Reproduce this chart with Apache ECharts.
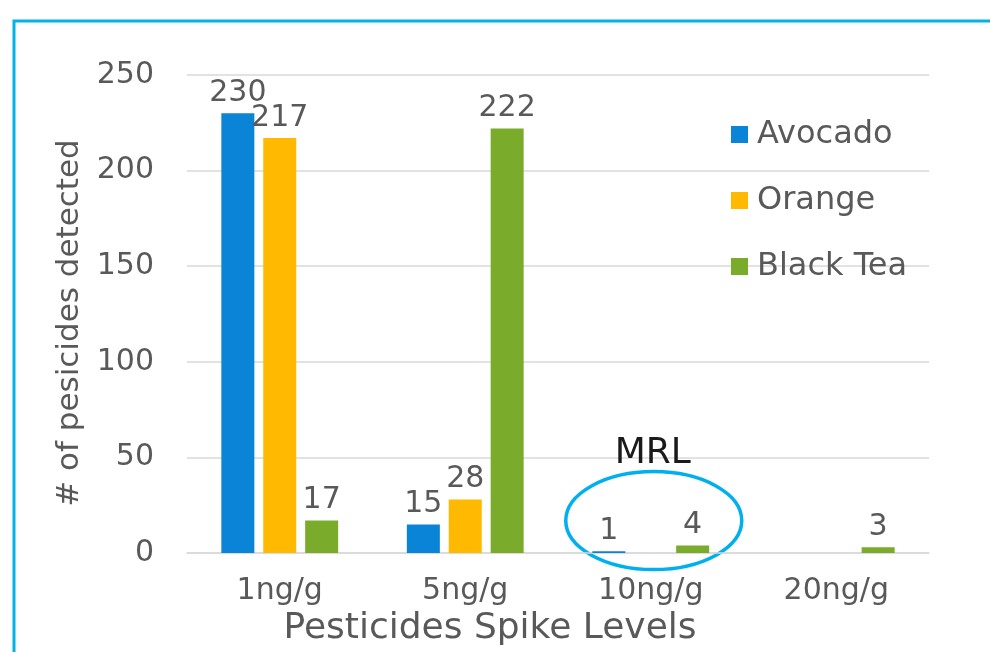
<!DOCTYPE html>
<html>
<head>
<meta charset="utf-8">
<script src="https://cdn.jsdelivr.net/npm/echarts@6/dist/echarts.min.js"></script>
<style>
  html, body { margin: 0; padding: 0; background: #fff; }
  #chart { width: 990px; height: 652px; }
</style>
</head>
<body>
<div id="chart"></div>
<script>
  var levels = ['1ng/g', '5ng/g', '10ng/g', '20ng/g'];
  var avocado = [230, 15, 1, 0];
  var orange = [217, 28, 0, 0];
  var blackTea = [17, 222, 4, 3];
  var yTicks = [0, 50, 100, 150, 200, 250];

  var font = 'DejaVu Sans';
  var grey = '#595959';

  // hide the label when the value is 0
  function labelFmt(p) {
    return p.value === 0 ? '' : p.value;
  }

  function barSeries(name, data, color) {
    return {
      name: name,
      type: 'bar',
      data: data,
      barWidth: 33,
      barGap: '27%',
      itemStyle: { color: color },
      label: {
        show: true,
        position: 'top',
        distance: 5,
        formatter: labelFmt,
        color: grey,
        fontFamily: font,
        fontSize: 30
      }
    };
  }

  var myChart = echarts.init(document.getElementById('chart'));

  var option = {
    animation: false,
    grid: { left: 187, right: 61, top: 75, bottom: 98 },
    legend: {
      orient: 'vertical',
      left: 726,
      top: 113,
      itemWidth: 17,
      itemHeight: 17,
      itemGap: 33,
      icon: 'rect',
      textStyle: { color: grey, fontFamily: font, fontSize: 32, lineHeight: 33, padding: [0, 0, 0, 4] },
      data: ['Avocado', 'Orange', 'Black Tea']
    },
    xAxis: {
      type: 'category',
      data: levels,
      name: 'Pesticides Spike Levels',
      nameLocation: 'middle',
      nameGap: 55,
      nameTextStyle: { color: grey, fontFamily: font, fontSize: 36, padding: [0, 136, 0, 0] },
      axisLine: { lineStyle: { color: '#d9d9d9', width: 1.5 } },
      axisTick: { show: false },
      axisLabel: { color: grey, fontFamily: font, fontSize: 30, margin: 23 }
    },
    yAxis: {
      type: 'value',
      min: yTicks[0],
      max: yTicks[yTicks.length - 1],
      interval: 50,
      name: '# of pesicides detected',
      nameLocation: 'middle',
      nameGap: 99,
      nameTextStyle: { color: grey, fontFamily: font, fontSize: 31, padding: [0, 18, 0, 0] },
      axisLine: { show: false },
      axisTick: { show: false },
      axisLabel: { color: grey, fontFamily: font, fontSize: 30, margin: 33 },
      splitLine: { lineStyle: { color: '#d9d9d9', width: 1.5 } }
    },
    series: [
      barSeries('Avocado', avocado, '#0a84d6'),
      barSeries('Orange', orange, '#ffb900'),
      barSeries('Black Tea', blackTea, '#7aab2b')
    ]
  };
  myChart.setOption(option);

  // MRL ring around the 10ng/g group, placed from the axes
  var ringC = myChart.convertToPixel({ xAxisIndex: 0, yAxisIndex: 0 }, ['10ng/g', 17]);
  var mrlPos = myChart.convertToPixel({ xAxisIndex: 0, yAxisIndex: 0 }, ['10ng/g', 52]);

  myChart.setOption({
    graphic: [
      {
        type: 'rect',
        silent: true,
        shape: { x: 14, y: 21, width: 1000, height: 700 },
        style: { fill: 'none', stroke: '#00b4e4', lineWidth: 3 }
      },
      {
        type: 'ellipse',
        silent: true,
        shape: { cx: ringC[0] + 3, cy: ringC[1], rx: 88, ry: 49 },
        style: { fill: 'none', stroke: '#00b0ee', lineWidth: 3.5 }
      },
      {
        type: 'text',
        silent: true,
        x: mrlPos[0] + 2,
        y: mrlPos[1],
        style: {
          text: 'MRL',
          fill: '#1a1a1a',
          font: '36px "DejaVu Sans"',
          textAlign: 'center',
          textVerticalAlign: 'middle'
        }
      }
    ]
  });
</script>
</body>
</html>
